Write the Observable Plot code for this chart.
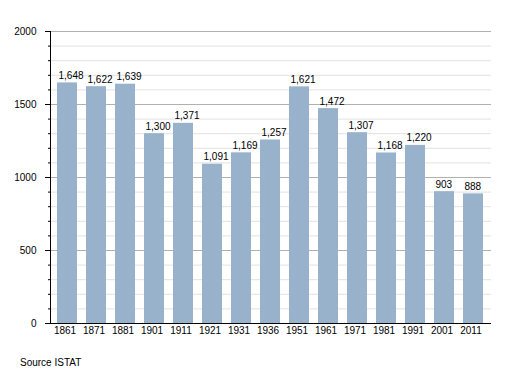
<!DOCTYPE html>
<html>
<head>
<meta charset="utf-8">
<script src="https://cdn.jsdelivr.net/npm/d3@7"></script>
<script src="https://cdn.jsdelivr.net/npm/@observablehq/plot@0.6"></script>
<style>
  body { margin: 0; background: #fff; font-family: "Liberation Sans", Arial, sans-serif; }
  #chart svg { display: block; }
  #caption { font-size: 10px; color: #000; margin: 12px 0 0 20px; line-height: 12px; }
</style>
</head>
<body>
<div id="chart"></div>
<div id="caption">Source ISTAT</div>
<script>
const years = ["1861","1871","1881","1901","1911","1921","1931","1936","1951","1961","1971","1981","1991","2001","2011"];
const population = [1648,1622,1639,1300,1371,1091,1169,1257,1621,1472,1307,1168,1220,903,888];
const majorTicks = [0,500,1000,1500,2000];
const minorTicks = [100,200,300,400,600,700,800,900,1100,1200,1300,1400,1600,1700,1800,1900];

const data = years.map((y, i) => ({year: y, value: population[i]}));
const fmt = d3.format(",");

const chart = Plot.plot({
  width: 520,
  height: 345,
  marginLeft: 50,
  marginRight: 29,
  marginTop: 31,
  marginBottom: 22,
  style: {fontFamily: "Liberation Sans, Arial, sans-serif", fontSize: "10px", color: "#000", background: "#fff"},
  x: {domain: years, paddingInner: 0.3, paddingOuter: 0.02, label: null},
  y: {domain: [0, 2000], label: null},
  marks: [
    Plot.ruleY(minorTicks, {stroke: "#e2e2e2", strokeOpacity: 1}),
    Plot.ruleY(majorTicks, {stroke: "#b0b0b0", strokeOpacity: 1}),
    Plot.barY(data, {x: "year", y: "value", fill: "#99b2cb"}),
    Plot.text(data, {x: "year", y: "value", text: d => fmt(d.value), textAnchor: "start", lineAnchor: "bottom", dx: -9, dy: -4, fill: "#000", fontSize: 10}),
    Plot.axisY({ticks: majorTicks, tickSize: 5, tickPadding: 9, tickFormat: d => String(d), stroke: "#000", strokeOpacity: 1, label: null}),
    Plot.axisY({ticks: minorTicks, tickSize: 2, tickFormat: () => "", stroke: "#000", strokeOpacity: 1, label: null}),
    Plot.axisX({tickSize: 0, tickPadding: 3, dx: -2.5, label: null}),
    Plot.ruleY([0], {stroke: "#000", strokeOpacity: 1}),
    Plot.frame({anchor: "left", stroke: "#000", strokeOpacity: 1})
  ]
});
document.getElementById("chart").append(chart);
</script>
</body>
</html>
